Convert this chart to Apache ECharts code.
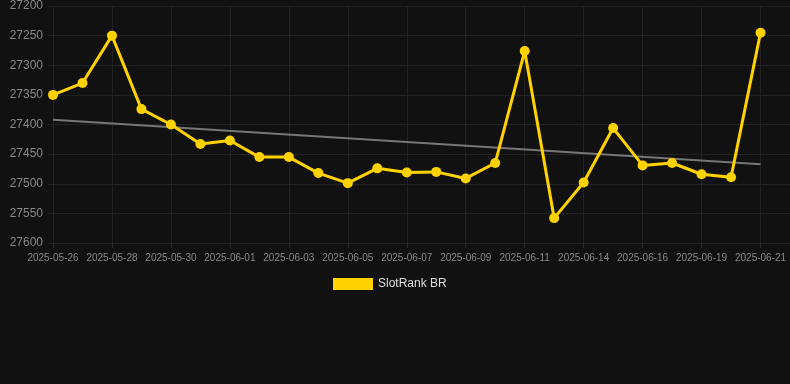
<!DOCTYPE html>
<html>
<head>
<meta charset="utf-8">
<script src="https://cdn.jsdelivr.net/npm/echarts@6/dist/echarts.min.js"></script>
<style>
html,body{margin:0;padding:0;background:#111111;}
#chart{width:790px;height:384px;}
</style>
</head>
<body>
<div id="chart"></div>
<script>
const categories = ['2025-05-26','2025-05-27','2025-05-28','2025-05-29','2025-05-30','2025-05-31',
  '2025-06-01','2025-06-02','2025-06-03','2025-06-04','2025-06-05','2025-06-06','2025-06-07',
  '2025-06-08','2025-06-09','2025-06-10','2025-06-11','2025-06-13','2025-06-14','2025-06-15',
  '2025-06-16','2025-06-17','2025-06-19','2025-06-20','2025-06-21'];
const rankValues = [27350,27330,27250,27374,27400,27433,27427,27455,27455,27482,27499,27474,27481,
  27480,27491,27465,27276,27558,27498,27406,27469,27465,27484,27489,27245];
const trendValues = [27392, 27467];
const seriesName = 'SlotRank BR';
const yMin = 27200, yMax = 27600, yStep = 50;

const labelIdx = categories.map((c, i) => i).filter(i => i % 2 === 0);
const chart = echarts.init(document.getElementById('chart'));
chart.setOption({
  backgroundColor: '#111111',
  animation: false,
  grid: { left: 48, right: 0, top: 6, bottom: 141 },
  legend: {
    data: [seriesName],
    top: 273, left: 328,
    itemWidth: 40, itemHeight: 12,
    textStyle: { color: '#dddddd', fontSize: 12, fontFamily: 'Liberation Sans, Arial, sans-serif' },
    icon: 'rect'
  },
  xAxis: {
    type: 'value',
    min: -0.17, max: 25,
    axisLine: { show: false },
    axisTick: { show: true, customValues: labelIdx, length: 5, lineStyle: { color: '#2a2a2a' } },
    splitLine: { show: true, lineStyle: { color: '#222222', width: 1 } },
    axisLabel: {
      customValues: labelIdx,
      color: '#888888', fontSize: 10, margin: 10,
      fontFamily: 'Liberation Sans, Arial, sans-serif',
      formatter: v => categories[Math.round(v)] || ''
    }
  },
  yAxis: {
    type: 'value',
    inverse: true,
    min: yMin, max: yMax, interval: yStep,
    axisLine: { show: false },
    axisTick: { show: false },
    splitLine: { lineStyle: { color: '#222222', width: 1 } },
    axisLabel: { color: '#888888', fontSize: 12, margin: 5, fontFamily: 'Liberation Sans, Arial, sans-serif',
      formatter: v => String(v) }
  },
  series: [
    {
      name: 'trend',
      type: 'line',
      data: [[0, trendValues[0]], [categories.length - 1, trendValues[1]]],
      symbol: 'none',
      lineStyle: { color: '#777777', width: 2 },
      z: 1
    },
    {
      name: seriesName,
      type: 'line',
      data: rankValues.map((v, i) => [i, v]),
      symbol: 'circle',
      symbolSize: 10,
      itemStyle: { color: '#FFD200' },
      lineStyle: { color: '#FFD200', width: 3 },
      z: 2
    }
  ]
});
</script>
</body>
</html>
